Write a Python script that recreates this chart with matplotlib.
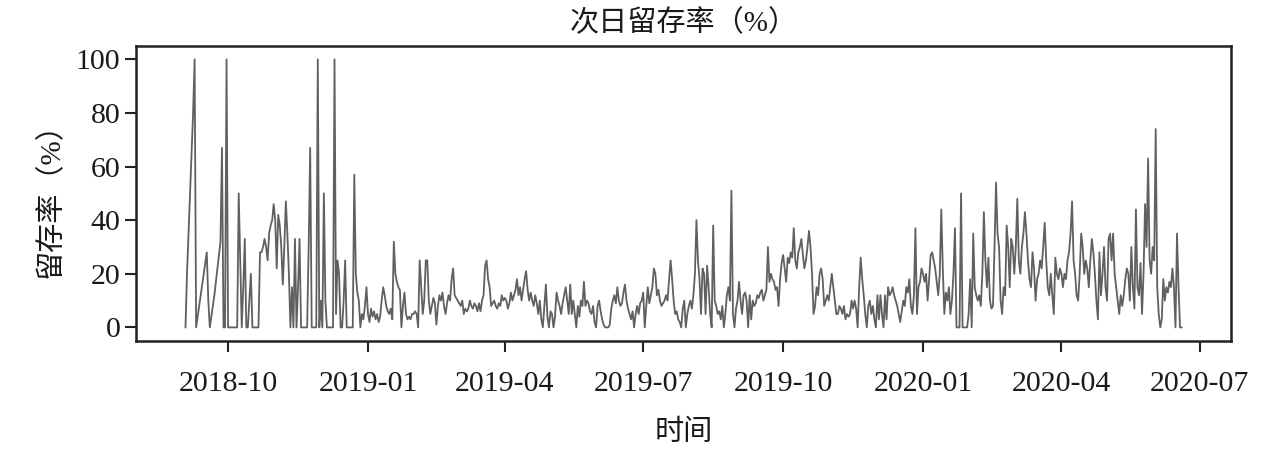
import pandas as pd;
import matplotlib;
matplotlib.use('Agg');
import matplotlib.pyplot as plt;
import matplotlib.dates as mdates;

plt.rcParams['font.family'] = ['Liberation Serif', 'Noto Sans CJK SC', 'DejaVu Sans'];

start = '2018-09-03';

# 2018-09-03 .. 2018-12-31
r2018 = [0, 20, 35, 50, 65, 80, 100, 0, 4, 8,
         12, 16, 20, 24, 28, 10, 0, 4, 8, 12,
         17, 22, 27, 32, 67, 0, 0, 100, 0, 0,
         0, 0, 0, 0, 0, 50, 25, 0, 15, 33,
         0, 0, 10, 20, 0, 0, 0, 0, 0, 28,
         28, 30, 33, 30, 25, 35, 38, 40, 46, 40,
         22, 42, 38, 30, 16, 30, 47, 35, 20, 0,
         15, 0, 33, 0, 15, 33, 0, 0, 0, 0,
         0, 30, 67, 0, 0, 0, 0, 100, 0, 10,
         0, 50, 10, 0, 0, 0, 0, 0, 100, 5,
         25, 20, 0, 0, 10, 25, 0, 0, 0, 0,
         0, 57, 20, 13, 10, 0, 5, 3, 8, 15];

# 2019 Q1
r2019q1 = [5, 2, 7, 4, 6, 3, 5, 2, 4, 10,
           15, 12, 8, 6, 5, 7, 3, 32, 20, 17,
           15, 14, 0, 8, 13, 5, 3, 4, 3, 5,
           5, 6, 5, 0, 25, 15, 5, 10, 25, 25,
           10, 5, 8, 11, 9, 1, 8, 12, 10, 13,
           8, 5, 9, 12, 10, 18, 22, 12, 11, 10,
           9, 8, 10, 5, 7, 6, 7, 10, 8, 7,
           9, 8, 6, 9, 6, 10, 12, 23, 25, 18,
           15, 8, 9, 10, 8, 7, 9, 8, 12, 10];

# 2019 Q2
r2019q2 = [11, 10, 7, 9, 13, 10, 12, 14, 18, 12,
           15, 10, 14, 18, 21, 14, 10, 13, 10, 8,
           12, 9, 5, 10, 3, 0, 8, 16, 4, 0,
           6, 5, 0, 4, 13, 10, 8, 5, 9, 12,
           15, 10, 5, 16, 5, 10, 5, 0, 8, 4,
           10, 8, 17, 8, 10, 9, 6, 5, 8, 2,
           0, 8, 10, 6, 3, 1, 0, 0, 0, 1,
           7, 10, 12, 9, 15, 10, 8, 9, 13, 16,
           10, 7, 5, 3, 6, 0, 5, 8, 5, 9,
           10];

# 2019 Q3
r2019q3 = [13, 0, 8, 15, 9, 12, 15, 22, 20, 12,
           14, 10, 8, 9, 10, 12, 10, 18, 25, 18,
           10, 5, 6, 3, 2, 0, 7, 10, 0, 5,
           8, 10, 7, 12, 20, 40, 25, 18, 5, 22,
           20, 5, 23, 15, 5, 0, 38, 10, 8, 5,
           6, 3, 8, 0, 5, 12, 15, 10, 51, 5,
           0, 7, 10, 17, 10, 5, 12, 13, 10, 0,
           12, 3, 10, 8, 9, 12, 11, 13, 14, 10,
           12, 14, 30, 17, 20, 18, 17, 14, 15, 8,
           18, 24];

# 2019 Q4
r2019q4 = [27, 22, 17, 26, 24, 28, 26, 37, 25, 22,
           28, 30, 33, 27, 22, 25, 30, 36, 30, 20,
           5, 8, 15, 12, 20, 22, 18, 8, 10, 12,
           10, 15, 20, 15, 10, 5, 5, 8, 7, 5,
           8, 3, 5, 4, 5, 10, 7, 10, 7, 0,
           15, 26, 18, 12, 5, 0, 8, 10, 5, 8,
           3, 0, 12, 3, 12, 5, 0, 12, 3, 15,
           12, 13, 15, 12, 10, 8, 5, 2, 6, 10,
           8, 15, 13, 18, 8, 5, 12, 37, 5, 15,
           17, 22];

# 2020 Q1
r2020q1 = [20, 17, 20, 10, 18, 27, 28, 25, 22, 17,
           12, 20, 44, 22, 5, 13, 10, 15, 5, 10,
           20, 37, 0, 0, 0, 50, 0, 0, 0, 0,
           5, 18, 0, 35, 15, 12, 10, 12, 8, 20,
           43, 25, 15, 26, 10, 7, 8, 30, 54, 35,
           30, 10, 5, 15, 12, 38, 30, 15, 33, 30,
           20, 30, 48, 25, 20, 30, 35, 43, 35, 25,
           18, 15, 28, 22, 10, 18, 20, 25, 22, 30,
           39, 25, 15, 12, 20, 12, 5, 26, 20, 18,
           22];

# 2020 Q2
r2020q2 = [20, 15, 20, 18, 25, 28, 35, 47, 25, 20,
           12, 10, 20, 35, 30, 20, 25, 22, 15, 25,
           33, 28, 20, 10, 3, 28, 12, 20, 30, 15,
           10, 33, 35, 25, 35, 20, 15, 10, 5, 12,
           8, 12, 18, 22, 20, 10, 30, 15, 7, 44,
           15, 12, 24, 5, 20, 46, 30, 63, 25, 20,
           30, 25, 74, 15, 5, 0, 3, 18, 10, 15,
           13, 17, 15, 22, 15, 0, 35, 15, 0, 0];

rate = r2018 + r2019q1 + r2019q2 + r2019q3 + r2019q4 + r2020q1 + r2020q2;
df = pd.DataFrame({'rate': rate}, index=pd.date_range(start, periods=len(rate), freq='D'));

fig, ax = plt.subplots(figsize=(12.8, 4.55), dpi=100);
fig.subplots_adjust(left=0.106, right=0.962, top=0.899, bottom=0.251);

ax.plot(df.index, df['rate'], color='#606060', linewidth=1.3);

ax.xaxis.set_major_locator(mdates.MonthLocator(bymonth=[1, 4, 7, 10]));
ax.xaxis.set_major_formatter(mdates.DateFormatter('%Y-%m'));
ax.set_yticks([0, 20, 40, 60, 80, 100]);

for s in ax.spines.values():
	s.set_linewidth(1.8);
	s.set_color('#222222');
ax.tick_params(axis='both', length=8, width=1.5, color='#222222', labelsize=21.5, labelcolor='#1a1a1a');
ax.tick_params(axis='x', pad=14);
ax.tick_params(axis='y', pad=3);

ax.set_title('次日留存率（%）', fontsize=21, pad=11, color='#1a1a1a');
ax.set_xlabel('时间', fontsize=21, labelpad=16, color='#1a1a1a');
ax.set_ylabel('留存率（%）', fontsize=21, labelpad=8, color='#1a1a1a');

fig.savefig('out.png', dpi=100);
